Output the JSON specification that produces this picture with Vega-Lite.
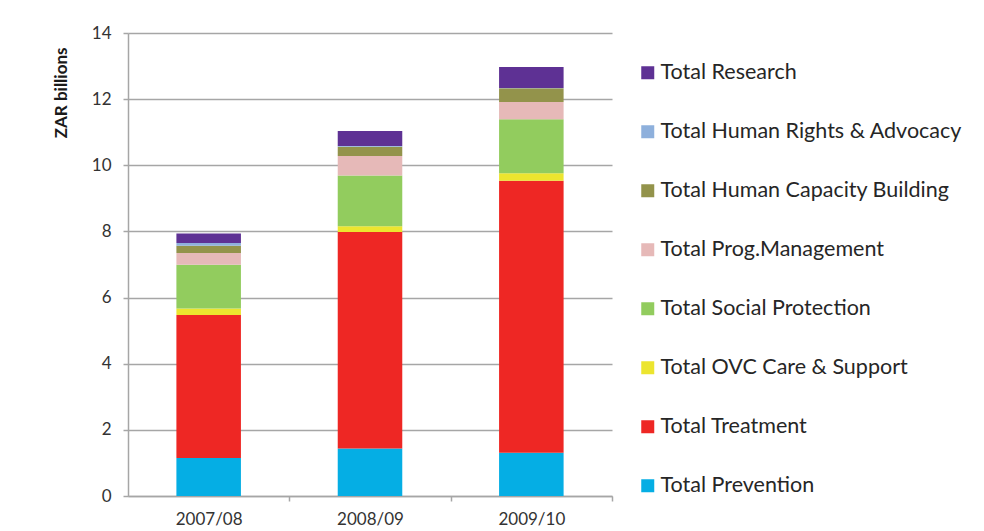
{
  "$schema": "https://vega.github.io/schema/vega-lite/v6.json",
  "width": 484,
  "height": 463,
  "autosize": "none",
  "padding": {"left": 128, "top": 33, "right": 372, "bottom": 35},
  "background": "white",
  "config": {
    "view": {"stroke": null},
    "font": "Lato",
    "axis": {"labelFont": "Lato", "titleFont": "Lato"},
    "legend": {"labelFont": "Lato"}
  },
  "data": {
    "values": [
      {"year": "2007/08", "category": "Total Prevention", "value": 1.15},
      {"year": "2007/08", "category": "Total Treatment", "value": 4.32},
      {"year": "2007/08", "category": "Total OVC Care & Support", "value": 0.20},
      {"year": "2007/08", "category": "Total Social Protection", "value": 1.32},
      {"year": "2007/08", "category": "Total Prog.Management", "value": 0.36},
      {"year": "2007/08", "category": "Total Human Capacity Building", "value": 0.22},
      {"year": "2007/08", "category": "Total Human Rights & Advocacy", "value": 0.08},
      {"year": "2007/08", "category": "Total Research", "value": 0.29},
      {"year": "2008/09", "category": "Total Prevention", "value": 1.44},
      {"year": "2008/09", "category": "Total Treatment", "value": 6.54},
      {"year": "2008/09", "category": "Total OVC Care & Support", "value": 0.18},
      {"year": "2008/09", "category": "Total Social Protection", "value": 1.53},
      {"year": "2008/09", "category": "Total Prog.Management", "value": 0.59},
      {"year": "2008/09", "category": "Total Human Capacity Building", "value": 0.28},
      {"year": "2008/09", "category": "Total Human Rights & Advocacy", "value": 0.02},
      {"year": "2008/09", "category": "Total Research", "value": 0.46},
      {"year": "2009/10", "category": "Total Prevention", "value": 1.31},
      {"year": "2009/10", "category": "Total Treatment", "value": 8.22},
      {"year": "2009/10", "category": "Total OVC Care & Support", "value": 0.23},
      {"year": "2009/10", "category": "Total Social Protection", "value": 1.63},
      {"year": "2009/10", "category": "Total Prog.Management", "value": 0.52},
      {"year": "2009/10", "category": "Total Human Capacity Building", "value": 0.42},
      {"year": "2009/10", "category": "Total Human Rights & Advocacy", "value": 0.01},
      {"year": "2009/10", "category": "Total Research", "value": 0.63}
    ]
  },
  "transform": [
    {"calculate": "indexof(['Total Prevention','Total Treatment','Total OVC Care & Support','Total Social Protection','Total Prog.Management','Total Human Capacity Building','Total Human Rights & Advocacy','Total Research'], datum.category)", "as": "stackIndex"}
  ],
  "mark": {"type": "bar", "stroke": null},
  "encoding": {
    "x": {
      "field": "year",
      "type": "nominal",
      "scale": {"paddingInner": 0.6, "paddingOuter": 0.3},
      "axis": {
        "title": null,
        "labelAngle": 0,
        "labelFontSize": 17,
        "labelColor": "#333333",
        "labelPadding": 10,
        "tickOffset": 80.67,
        "labelOffset": -80.67,
        "tickSize": 5,
        "tickColor": "#a6a6a6",
        "domainColor": "#a6a6a6",
        "domainWidth": 1.5,
        "tickWidth": 1.5,
        "grid": false
      }
    },
    "y": {
      "field": "value",
      "type": "quantitative",
      "stack": "zero",
      "scale": {"domain": [0, 14]},
      "axis": {
        "title": "ZAR billions",
        "titleFontSize": 17,
        "titleFontWeight": "bold",
        "titleColor": "#1a1a1a",
        "titleAnchor": "end",
        "titleY": 14,
        "titlePadding": 21,
        "values": [0, 2, 4, 6, 8, 10, 12, 14],
        "labelFontSize": 17,
        "labelColor": "#333333",
        "labelPadding": 12,
        "tickSize": 5,
        "tickColor": "#a6a6a6",
        "tickWidth": 1.5,
        "domainColor": "#a6a6a6",
        "domainWidth": 1.5,
        "grid": true,
        "gridColor": "#a6a6a6",
        "gridWidth": 1.5
      }
    },
    "order": {"field": "stackIndex", "type": "quantitative", "sort": "ascending"},
    "color": {
      "field": "category",
      "type": "nominal",
      "scale": {
        "domain": [
          "Total Prevention",
          "Total Treatment",
          "Total OVC Care & Support",
          "Total Social Protection",
          "Total Prog.Management",
          "Total Human Capacity Building",
          "Total Human Rights & Advocacy",
          "Total Research"
        ],
        "range": ["#05aee4", "#ee2724", "#ece52f", "#92cc5e", "#e6b9b8", "#93934b", "#8eb0dc", "#5e3194"]
      },
      "legend": {
        "title": null,
        "orient": "none",
        "legendX": 509,
        "legendY": 29,
        "values": [
          "Total Research",
          "Total Human Rights & Advocacy",
          "Total Human Capacity Building",
          "Total Prog.Management",
          "Total Social Protection",
          "Total OVC Care & Support",
          "Total Treatment",
          "Total Prevention"
        ],
        "symbolType": "square",
        "symbolSize": 169,
        "symbolStrokeWidth": 0,
        "labelFontSize": 21.5,
        "labelColor": "#262626",
        "labelOffset": 2,
        "rowPadding": 36,
        "labelLimit": 400
      }
    }
  }
}
